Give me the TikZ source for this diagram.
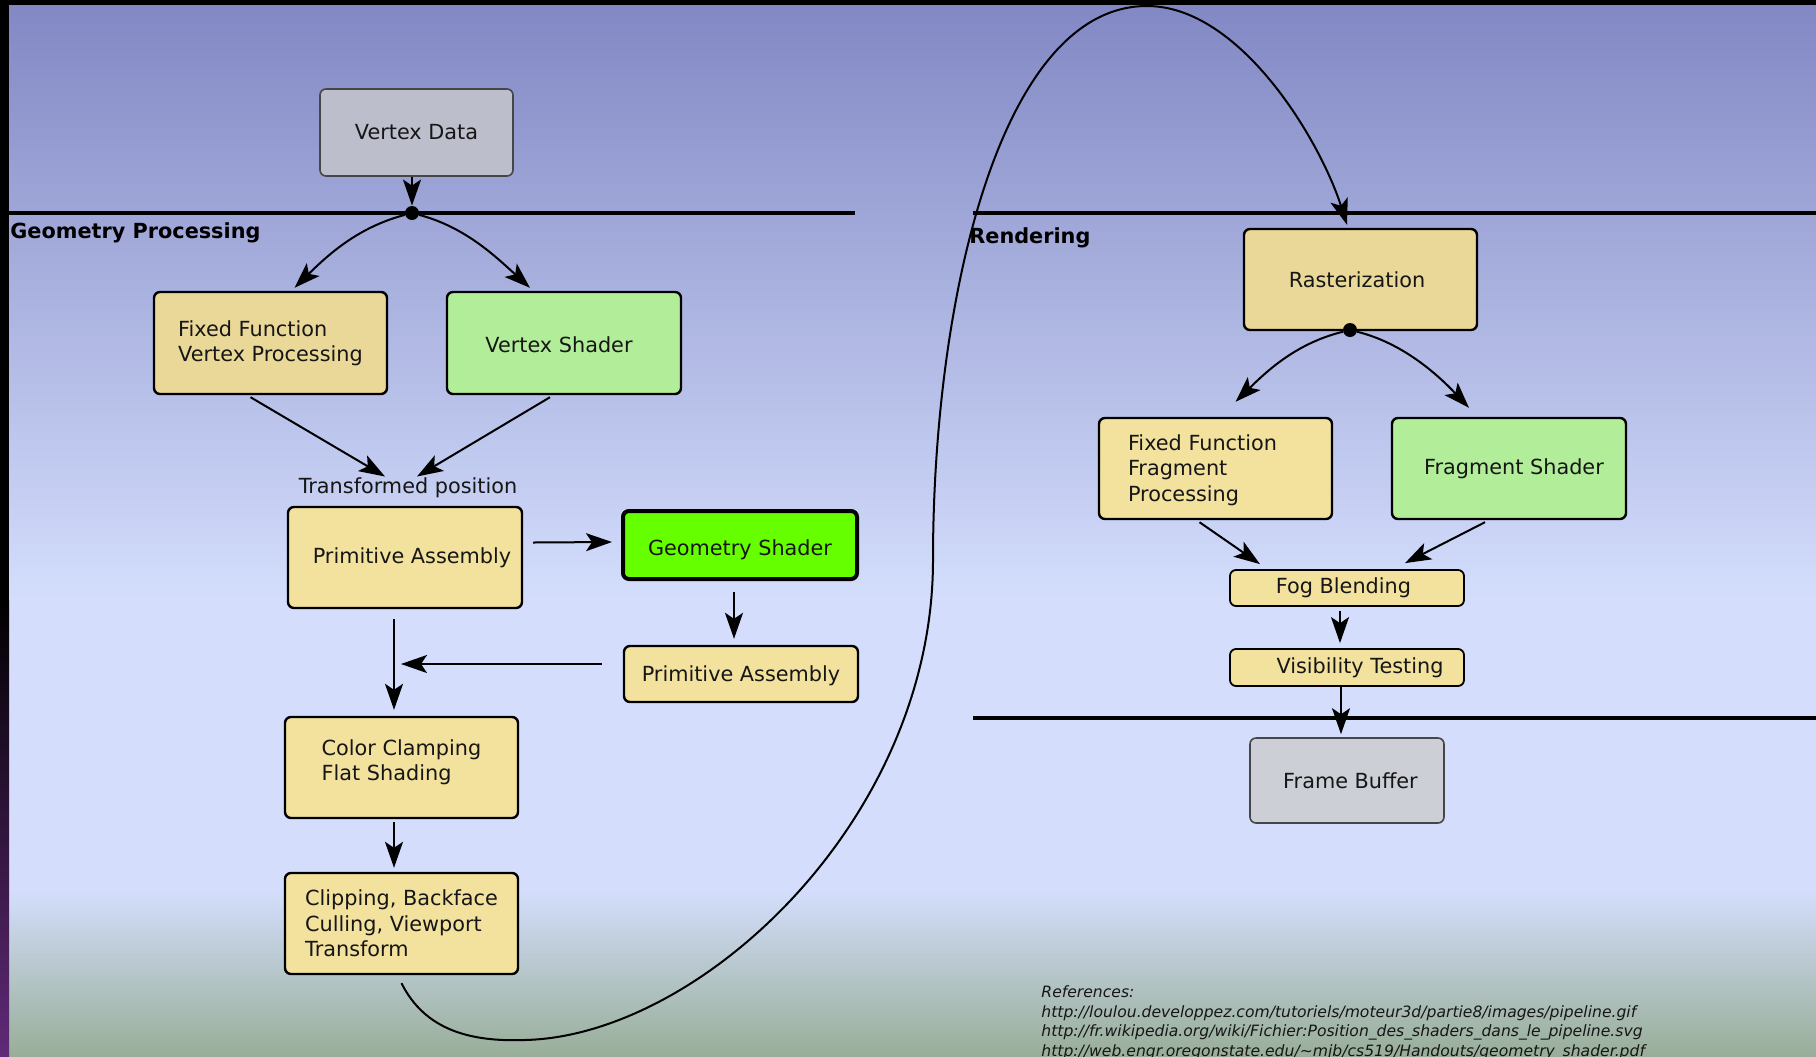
\documentclass[tikz,border=0pt]{standalone}
\usepackage{fontspec}
\setmainfont{DejaVu Sans}
\usetikzlibrary{arrows.meta,calc}
\definecolor{bgtop}{RGB}{130,136,196}
\definecolor{bgmid}{RGB}{212,222,252}
\definecolor{bgbot}{RGB}{152,174,152}
\definecolor{edgepurple}{RGB}{96,42,120}
\definecolor{tanA}{RGB}{234,216,152}
\definecolor{tanB}{RGB}{243,226,158}
\definecolor{greenA}{RGB}{178,238,154}
\definecolor{greenB}{RGB}{102,255,0}
\definecolor{grayA}{RGB}{188,190,204}
\definecolor{grayB}{RGB}{205,207,215}
\definecolor{txt}{RGB}{22,22,22}
\definecolor{graybord}{RGB}{70,70,70}
% shift text inside a box without moving the box
\newcommand{\txtdown}[2]{\raisebox{0pt}[\dimexpr\height+#1*2\relax][\depth]{#2}}
\newcommand{\txtup}[2]{\raisebox{0pt}[\height][\dimexpr\depth+#1*2\relax]{#2}}
\newcommand{\lines}[1]{\begin{tabular}{@{}l@{}}#1\end{tabular}}
\tikzset{
  box/.style={draw=black, line width=1.2pt, rounded corners=3pt, text=txt,
    align=left, inner sep=0pt, font=\fontsize{10.4pt}{12.7pt}\selectfont},
  tanbox/.style={box, fill=tanB},
  tandark/.style={box, fill=tanA},
  greenbox/.style={box, fill=greenA},
  gsbox/.style={box, fill=greenB, line width=2pt},
  graybox/.style={box, draw=graybord, line width=0.8pt},
  conn/.style={line width=1pt, draw=black,
    -{Stealth[length=13pt,width=9pt,inset=3pt]}},
  sepline/.style={line width=2pt, draw=black},
  junction/.style={circle, fill=black, inner sep=0pt, minimum size=7pt},
  section/.style={font=\fontsize{10.4pt}{12.5pt}\selectfont\bfseries, text=black, inner sep=0pt, anchor=west},
  plain/.style={font=\fontsize{10.4pt}{12.5pt}\selectfont, text=txt, inner sep=1pt},
  refs/.style={font=\fontsize{7.8pt}{9.75pt}\selectfont\itshape, text=txt, inner sep=0pt, anchor=north west, align=left},
}
\begin{document}
\begin{tikzpicture}[x=0.5pt,y=-0.5pt]
% canvas
\clip (0,0) rectangle (1816,1056);
\useasboundingbox (0,0) rectangle (1816,1056);
\fill[black] (0,0) rectangle (1816,5);
\shade[top color=bgtop, bottom color=bgmid] (9,5) rectangle (1816,601);
\fill[bgmid] (9,600) rectangle (1816,891);
\shade[top color=bgmid, bottom color=bgbot] (9,890) rectangle (1816,1056);
\fill[black] (0,0) rectangle (9,601);
\shade[top color=black, bottom color=edgepurple] (0,600) rectangle (9,1056);

% separator lines
\draw[sepline] (9,213) -- (855,213);
\draw[sepline] (973,213) -- (1816,213);
\draw[sepline] (973,718) -- (1816,718);

% section labels
\node[section] (geolabel) at (10,232.5) {Geometry Processing};
\node[section] (renlabel) at (969,237.5) {Rendering};

% geometry processing nodes
\node[graybox, fill=grayA, minimum width=96.5pt, minimum height=43.5pt] (vd) at (416.5,132.5) {Vertex Data};
\node[tandark, minimum width=116.5pt, minimum height=51pt] (ffvp) at (270.5,343) {Fixed Function\\Vertex Processing};
\node[greenbox, minimum width=117pt, minimum height=51pt] (vs) at (564,343) {\txtdown{1pt}{Vertex Shader\hspace*{5pt}}};
\node[plain] (tp) at (408,487.5) {Transformed position};
\node[tanbox, minimum width=117pt, minimum height=50.5pt] (pa) at (405,557.5) {\hspace*{7pt}Primitive Assembly};
\node[gsbox, minimum width=117pt, minimum height=34pt] (gs) at (740,545) {\txtdown{2.3pt}{Geometry Shader}};
\node[tanbox, minimum width=117pt, minimum height=28pt] (pa2) at (741,674) {\txtdown{1pt}{Primitive Assembly}};
\node[tanbox, minimum width=116.5pt, minimum height=50.5pt] (cc) at (401.5,767.5) {\txtup{2.3pt}{\lines{Color Clamping\\Flat Shading}}};
\node[tanbox, minimum width=116.5pt, minimum height=50.5pt] (clip) at (401.5,923.5) {Clipping, Backface\\Culling, Viewport\\Transform};

% rendering nodes
\node[tandark, minimum width=116.5pt, minimum height=50.5pt] (rast) at (1360.5,279.5) {Rasterization\hspace*{3.5pt}};
\node[tanbox, minimum width=116.5pt, minimum height=50.5pt] (fffp) at (1215.5,468.5) {\txtdown{1.2pt}{\lines{Fixed Function\hspace*{13pt}\\Fragment\\Processing}}};
\node[greenbox, minimum width=117pt, minimum height=50.5pt] (fs) at (1509,468.5) {\hspace*{5pt}Fragment Shader};
\node[tanbox, line width=0.9pt, minimum width=117pt, minimum height=18pt] (fog) at (1347,588) {Fog Blending\hspace*{3.5pt}};
\node[tanbox, line width=0.9pt, minimum width=117pt, minimum height=18.5pt] (vis) at (1347,667.5) {\hspace*{13pt}Visibility Testing};
\node[graybox, fill=grayB, minimum width=97pt, minimum height=42.5pt] (fb) at (1347,780.5) {\hspace*{3.5pt}Frame Buffer};

% junctions and free ends
\node[junction] (gdot) at (412,213) {};
\node[junction] (rdot) at (1350,330) {};
\coordinate (merge) at (401,664);

% geometry connectors
\draw[conn] (vd.south -| gdot) -- (gdot.north);
\draw[conn] (gdot) .. controls (359,227) and (330,253) .. ($(ffvp.north)+(24,-3)$);
\draw[conn] (gdot) .. controls (465,227) and (495,256) .. ($(vs.north)+(-34,-3)$);
\draw[conn] ($(ffvp.south)+(-20,2)$) -- ($(tp)+(-23,-11)$);
\draw[conn] ($(vs.south)+(-14,2)$) -- ($(tp)+(9,-11)$);
\draw[conn] ($(pa.east)+(10,-15)$) -- ($(gs.west)+(-9,-3)$);
\draw[conn] ($(gs.south)+(-6,11)$) -- ($(pa2.north)+(-7,-6)$);
\draw[conn] ($(pa2.west)+(-21,-10)$) -- (merge);
\draw[conn] ($(pa.south)+(-11,10)$) -- ($(cc.north)+(-7.5,-6)$);
\draw[conn] ($(cc.south)+(-7.5,3)$) -- ($(clip.north)+(-7.5,-4)$);

% long connector to rasterization
\draw[conn] ($(clip.south)+(0,8)$) .. controls (425,1030) and (470,1042) .. (525,1040)
  .. controls (700,1036) and (933,820) .. (933,560)
  .. controls (933,300) and (1000,6) .. (1147,6)
  .. controls (1240,6) and (1320,140) .. ($(rast.north)+(-13.5,-3)$);

% rendering connectors
\draw[conn] (rdot) .. controls (1297,343) and (1268,370) .. ($(fffp.north)+(20,-15)$);
\draw[conn] (rdot) .. controls (1403,343) and (1438,375) .. ($(fs.north)+(-40,-9)$);
\draw[conn] ($(fffp.south)+(-16,2)$) -- ($(fog.north)+(-87,-5)$);
\draw[conn] ($(fs.south)+(-24,2)$) -- ($(fog.north)+(58,-6)$);
\draw[conn] ($(fog.south)+(-7,4)$) -- ($(vis.north)+(-7,-5)$);
\draw[conn] ($(vis.south)+(-6,0)$) -- ($(fb.north)+(-6,-3)$);

% references
\node[refs] (refs) at (1041,985.6) {References:\\
http://loulou.developpez.com/tutoriels/moteur3d/partie8/images/pipeline.gif\\
http://fr.wikipedia.org/wiki/Fichier:Position\_des\_shaders\_dans\_le\_pipeline.svg\\
http://web.engr.oregonstate.edu/\textasciitilde mjb/cs519/Handouts/geometry\_shader.pdf};
\end{tikzpicture}
\end{document}
